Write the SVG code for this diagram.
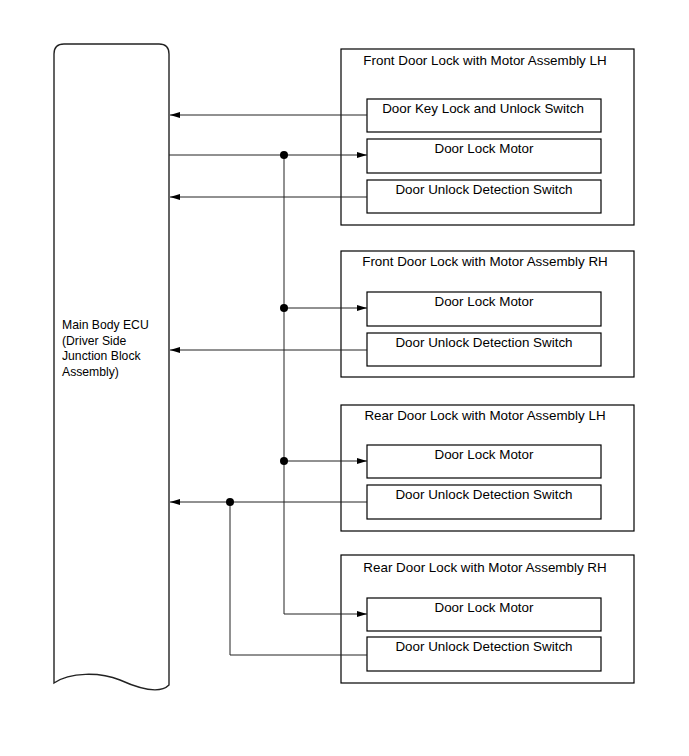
<svg xmlns="http://www.w3.org/2000/svg" width="689" height="756" viewBox="0 0 689 756">
<style>
.box{fill:#fff;stroke:#000;stroke-width:1.2}
.ecu{fill:#fff;stroke:#222;stroke-width:1.4}
.t{font-family:"Liberation Sans",Arial,sans-serif;font-size:13.4px;fill:#000}
.e{font-size:12.2px}
.c{text-anchor:middle}
.w{fill:none;stroke:#222;stroke-width:1}
.dot{fill:#000}
</style>
<defs>
<marker id="ah" markerWidth="10" markerHeight="6" refX="10" refY="3" orient="auto" markerUnits="userSpaceOnUse">
<path d="M0,0 L10,3 L0,6 Z" fill="#000"/>
</marker>
</defs>
<rect width="689" height="756" fill="#fff"/>
<g id="ecu">
<path class="ecu" d="M54,683 L54,54 Q54,44 64,44 L159,44 Q169,44 169,54 L169,685 C160,694 140,689 120,680 C100,672 70,672 54,683 Z"/>
<text class="t e" x="62" y="329">Main Body ECU</text>
<text class="t e" x="62" y="344.5">(Driver Side</text>
<text class="t e" x="62" y="360">Junction Block</text>
<text class="t e" x="62" y="376">Assembly)</text>
</g>
<g id="front-lh">
<rect class="box" x="341" y="49" width="293" height="176"/>
<text class="t c" x="485" y="65">Front Door Lock with Motor Assembly LH</text>
<rect class="box" x="367" y="99" width="234" height="33"/>
<text class="t c" x="483" y="113">Door Key Lock and Unlock Switch</text>
<rect class="box" x="367" y="139" width="234" height="34"/>
<text class="t c" x="484" y="153">Door Lock Motor</text>
<rect class="box" x="367" y="180" width="234" height="33"/>
<text class="t c" x="484" y="194">Door Unlock Detection Switch</text>
</g>
<g id="front-rh">
<rect class="box" x="341" y="251" width="293" height="126"/>
<text class="t c" x="485" y="266">Front Door Lock with Motor Assembly RH</text>
<rect class="box" x="367" y="292" width="234" height="34"/>
<text class="t c" x="484" y="306">Door Lock Motor</text>
<rect class="box" x="367" y="333" width="234" height="33"/>
<text class="t c" x="484" y="347">Door Unlock Detection Switch</text>
</g>
<g id="rear-lh">
<rect class="box" x="341" y="405" width="293" height="126"/>
<text class="t c" x="485" y="420">Rear Door Lock with Motor Assembly LH</text>
<rect class="box" x="367" y="445" width="234" height="33"/>
<text class="t c" x="484" y="459">Door Lock Motor</text>
<rect class="box" x="367" y="485" width="234" height="34"/>
<text class="t c" x="484" y="499">Door Unlock Detection Switch</text>
</g>
<g id="rear-rh">
<rect class="box" x="341" y="555" width="293" height="128"/>
<text class="t c" x="485" y="572">Rear Door Lock with Motor Assembly RH</text>
<rect class="box" x="367" y="598" width="234" height="33"/>
<text class="t c" x="484" y="612">Door Lock Motor</text>
<rect class="box" x="367" y="637" width="234" height="34"/>
<text class="t c" x="484" y="651">Door Unlock Detection Switch</text>
</g>
<g id="connectors">
<line class="w" x1="367" y1="115" x2="170" y2="115" marker-end="url(#ah)"/>
<line class="w" x1="169" y1="155" x2="367" y2="155" marker-end="url(#ah)"/>
<line class="w" x1="367" y1="197" x2="170" y2="197" marker-end="url(#ah)"/>
<line class="w" x1="284" y1="308" x2="367" y2="308" marker-end="url(#ah)"/>
<line class="w" x1="367" y1="350" x2="170" y2="350" marker-end="url(#ah)"/>
<line class="w" x1="284" y1="461" x2="367" y2="461" marker-end="url(#ah)"/>
<line class="w" x1="367" y1="502" x2="170" y2="502" marker-end="url(#ah)"/>
<polyline class="w" points="284,155 284,614 367,614" marker-end="url(#ah)"/>
<polyline class="w" points="230,502 230,655 367,655"/>
<circle class="dot" cx="284" cy="155" r="4"/>
<circle class="dot" cx="284" cy="308" r="4"/>
<circle class="dot" cx="284" cy="461" r="4"/>
<circle class="dot" cx="230" cy="502" r="4"/>
</g>
</svg>
